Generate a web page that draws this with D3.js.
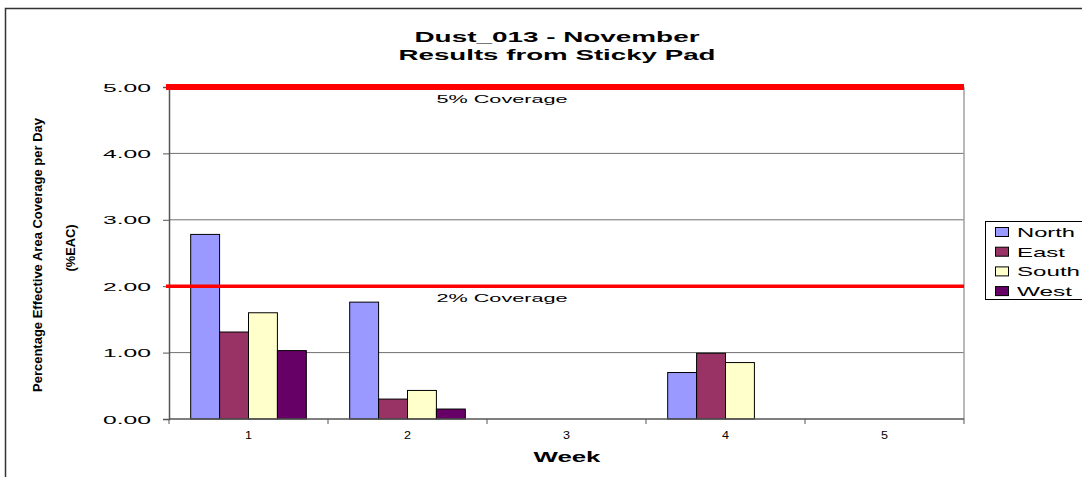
<!DOCTYPE html>
<html><head><meta charset="utf-8">
<script src="https://cdn.jsdelivr.net/npm/d3@7"></script>
<style>body{margin:0;background:#fff}svg{display:block}text{font-family:"Liberation Sans",Arial,sans-serif}</style>
</head><body>
<svg id="c" width="1082" height="477"></svg>
<script>
const weeks = ["1","2","3","4","5"];
const seriesNames = ["North","East","South","West"];
const seriesColors = ["#9999FF","#993366","#FFFFCC","#660066"];
const north = [2.78, 1.76, null, 0.70, null];
const east  = [1.31, 0.30, null, 0.99, null];
const south = [1.60, 0.43, null, 0.85, null];
const west  = [1.03, 0.15, null, null, null];
const yTicks = [0,1,2,3,4,5];
const thresholds = [{v:5, label:"5% Coverage", w:6},{v:2, label:"2% Coverage", w:3.5}];
const titleLines = ["Dust_013 - November","Results from Sticky Pad"];

const values = [north, east, south, west];
const svg = d3.select("#c");
const L = 169, R = 964, T = 87, B = 419;

// outer frame
svg.append("rect").attr("x",5.5).attr("y",8.5).attr("width",1200).attr("height",600)
  .attr("fill","none").attr("stroke","#333").attr("stroke-width",1.5);

const x0 = d3.scaleBand().domain(weeks).range([L,R]).padding(0);
const groupW = x0.bandwidth()*4/5.5;
const x1 = d3.scaleBand().domain(seriesNames).range([0,groupW]).padding(0);
const y = d3.scaleLinear().domain([0,5]).range([B,T]);

// gridlines
svg.append("g").selectAll("line").data(yTicks.filter(d=>d>0&&d<5)).join("line")
  .attr("x1",L).attr("x2",R).attr("y1",d=>y(d)).attr("y2",d=>y(d))
  .attr("stroke","#707070").attr("stroke-width",1);
// right border of plot
svg.append("line").attr("x1",R).attr("x2",R).attr("y1",T).attr("y2",B).attr("stroke","#a0a0a0").attr("stroke-width",1.5);

// bars
weeks.forEach((w,i)=>{
  seriesNames.forEach((s,j)=>{
    const v = values[j][i];
    if (v==null) return;
    svg.append("rect")
      .attr("x", x0(w) + (x0.bandwidth()-groupW)/2 + x1(s))
      .attr("y", y(v)).attr("width", x1.bandwidth()).attr("height", y(0)-y(v))
      .attr("fill", seriesColors[j]).attr("stroke","#000").attr("stroke-width",1);
  });
});

// axes
const yAxis = d3.axisLeft(y).tickValues(yTicks).tickSize(6).tickFormat(d3.format(".2f")).tickPadding(12);
const gy = svg.append("g").attr("transform",`translate(${L},0)`).call(yAxis);
gy.select(".domain").attr("stroke","#555").attr("stroke-width",1.5);
gy.selectAll(".tick line").attr("stroke","#555");
gy.selectAll(".tick text").attr("font-size",11.5).attr("fill","#000")
  .attr("textLength",48).attr("lengthAdjust","spacingAndGlyphs").attr("dy","0.35em");

const gx = svg.append("g").attr("transform",`translate(0,${B})`);
gx.append("line").attr("x1",L).attr("x2",R).attr("stroke","#555").attr("stroke-width",1.5);
const bounds = weeks.map(w=>x0(w)).concat([R]);
gx.selectAll(".tk").data(bounds).join("line").attr("class","tk")
  .attr("x1",d=>d).attr("x2",d=>d).attr("y1",0).attr("y2",5).attr("stroke","#555");
gx.selectAll("text").data(weeks).join("text")
  .attr("x",d=>x0(d)+x0.bandwidth()/2).attr("y",20).attr("text-anchor","middle")
  .attr("font-size",11).attr("textLength",7).attr("lengthAdjust","spacingAndGlyphs").text(d=>d);

// thresholds
thresholds.forEach(t=>{
  svg.append("line").attr("x1",L-3).attr("x2",R).attr("y1",y(t.v)).attr("y2",y(t.v))
    .attr("stroke","#FF0000").attr("stroke-width",t.w);
  svg.append("text").attr("x",502).attr("y",y(t.v)+16).attr("text-anchor","middle")
    .attr("font-size",11.5).attr("textLength",131).attr("lengthAdjust","spacingAndGlyphs").text(t.label);
});

// title
const tw = [285,317];
titleLines.forEach((t,i)=>{
  svg.append("text").attr("x",557).attr("y",42+i*18).attr("text-anchor","middle")
    .attr("font-size",15).attr("font-weight","bold").attr("textLength",tw[i]).attr("lengthAdjust","spacingAndGlyphs").text(t);
});

// axis titles
svg.append("text").attr("x",567).attr("y",462).attr("text-anchor","middle")
  .attr("font-size",14).attr("font-weight","bold").attr("textLength",67).attr("lengthAdjust","spacingAndGlyphs").text("Week");
svg.append("text").attr("transform","translate(42,255) rotate(-90)").attr("text-anchor","middle")
  .attr("font-size",13).attr("font-weight","bold").attr("textLength",274).attr("lengthAdjust","spacingAndGlyphs")
  .text("Percentage Effective Area Coverage per Day");
svg.append("text").attr("transform","translate(75,248) rotate(-90)").attr("text-anchor","middle")
  .attr("font-size",13).attr("font-weight","bold").attr("textLength",47).attr("lengthAdjust","spacingAndGlyphs")
  .text("(%EAC)");

// legend
svg.append("rect").attr("x",985.5).attr("y",221.5).attr("width",200).attr("height",78)
  .attr("fill","#fff").attr("stroke","#000").attr("stroke-width",1);
const lw = [58,48,63,55];
seriesNames.forEach((s,i)=>{
  const cy = 232 + i*19.7;
  svg.append("rect").attr("x",995.5).attr("y",cy-4.5).attr("width",13).attr("height",9)
    .attr("fill",seriesColors[i]).attr("stroke","#000").attr("stroke-width",1);
  svg.append("text").attr("x",1017).attr("y",cy+5).attr("font-size",13.5)
    .attr("textLength",lw[i]).attr("lengthAdjust","spacingAndGlyphs").text(s);
});
</script>
</body></html>
